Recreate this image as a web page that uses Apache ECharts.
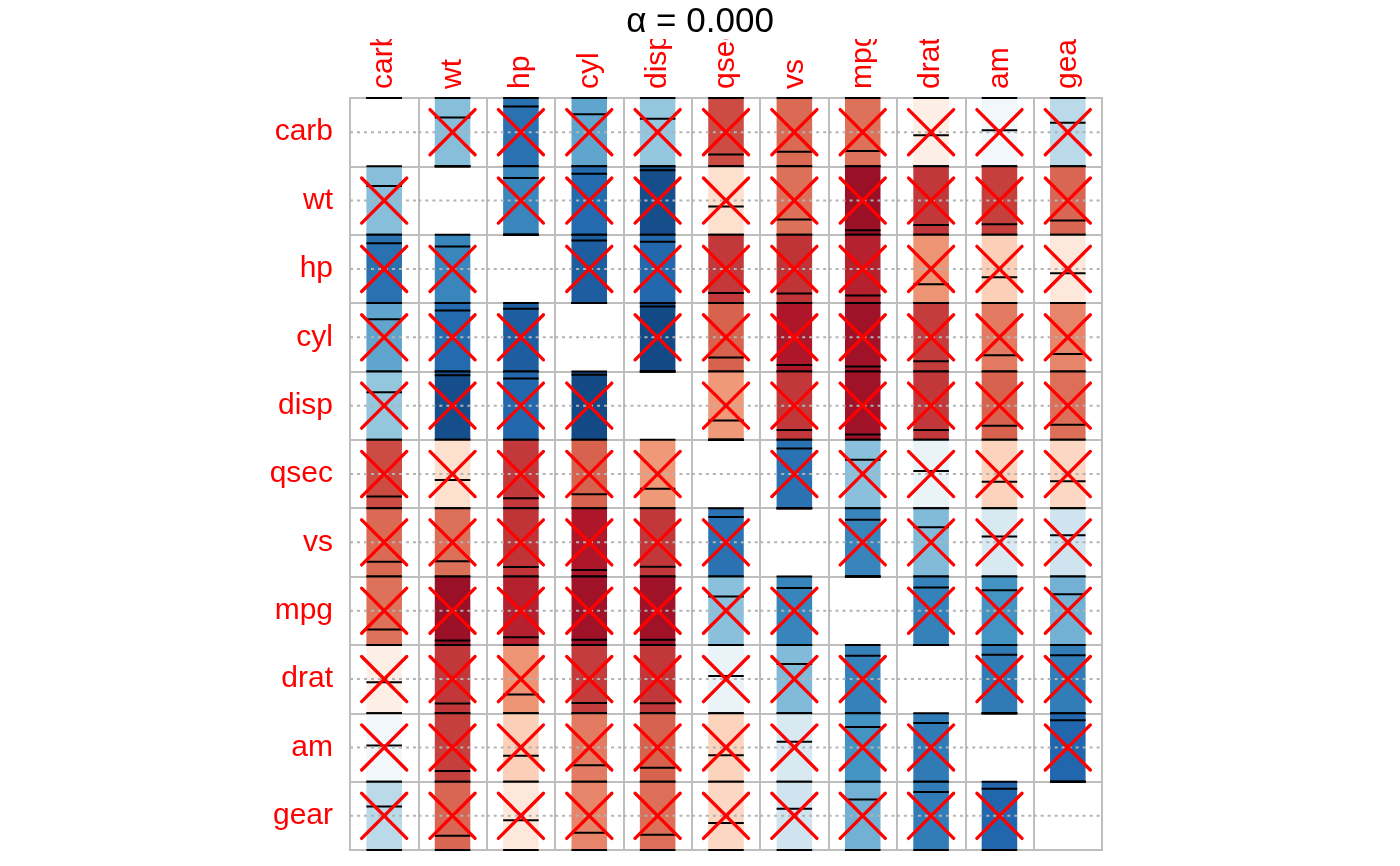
<!DOCTYPE html>
<html>
<head>
<meta charset="utf-8">
<title>corrplot CI</title>
<script src="https://cdn.jsdelivr.net/npm/echarts@6/dist/echarts.min.js"></script>
<style>
  html, body { margin: 0; padding: 0; background: #fff; }
  #chart { width: 1400px; height: 866px; }
</style>
</head>
<body>
<div id="chart"></div>
<script>
// variables in hclust order
var vars = ['carb', 'wt', 'hp', 'cyl', 'disp', 'qsec', 'vs', 'mpg', 'drat', 'am', 'gear'];

// correlation matrix (rows and columns follow vars)
var corr = [
  [ 1.000,  0.428,  0.750,  0.527,  0.395, -0.656, -0.570, -0.551, -0.091,  0.058,  0.274],
  [ 0.428,  1.000,  0.659,  0.782,  0.888, -0.175, -0.555, -0.868, -0.712, -0.692, -0.583],
  [ 0.750,  0.659,  1.000,  0.832,  0.791, -0.708, -0.723, -0.776, -0.449, -0.243, -0.126],
  [ 0.527,  0.782,  0.832,  1.000,  0.902, -0.591, -0.811, -0.852, -0.700, -0.523, -0.493],
  [ 0.395,  0.888,  0.791,  0.902,  1.000, -0.434, -0.710, -0.848, -0.710, -0.591, -0.556],
  [-0.656, -0.175, -0.708, -0.591, -0.434,  1.000,  0.745,  0.419,  0.091, -0.230, -0.213],
  [-0.570, -0.555, -0.723, -0.811, -0.710,  0.745,  1.000,  0.664,  0.440,  0.168,  0.206],
  [-0.551, -0.868, -0.776, -0.852, -0.848,  0.419,  0.664,  1.000,  0.681,  0.600,  0.480],
  [-0.091, -0.712, -0.449, -0.700, -0.710,  0.091,  0.440,  0.681,  1.000,  0.713,  0.700],
  [ 0.058, -0.692, -0.243, -0.523, -0.591, -0.230,  0.168,  0.600,  0.713,  1.000,  0.794],
  [ 0.274, -0.583, -0.126, -0.493, -0.556, -0.213,  0.206,  0.480,  0.700,  0.794,  1.000]
];

// alpha = 0 -> conf.level = 1, so every off-diagonal interval is [-1, 1]
var sigLevel = 0;
var ciLow = -1;
var ciUpp = 1;

// corrplot COL2('RdBu')
var palette = ['#67001F', '#B2182B', '#D6604D', '#F4A582', '#FDDBC7', '#FFFFFF',
               '#D1E5F0', '#92C5DE', '#4393C3', '#2166AC', '#053061'];

var cells = [];
for (var i = 0; i < vars.length; i++) {
  for (var j = 0; j < vars.length; j++) {
    var r = corr[i][j];
    var lo = i === j ? r : ciLow;
    var hi = i === j ? r : ciUpp;
    cells.push([j, i, r, lo, hi]);
  }
}

var font = 'Liberation Sans, Arial, sans-serif';
var chart = echarts.init(document.getElementById('chart'));

function renderCell(params, api) {
  var col = api.value(0), row = api.value(1), r = api.value(2);
  var lo = api.value(3), hi = api.value(4);
  var c = api.coord([col, row]);
  var size = api.size([1, 1]);
  var w = size[0], h = size[1];
  var half = w * 0.26;
  var yOf = function (v) { return c[1] - v * h / 2; };
  var kids = [];

  if (hi > lo) {
    kids.push({
      type: 'rect',
      shape: { x: c[0] - half, y: yOf(hi), width: half * 2, height: yOf(lo) - yOf(hi) },
      style: { fill: api.visual('color') }
    });
  }
  [hi, lo, r].forEach(function (v) {
    kids.push({
      type: 'line',
      shape: { x1: c[0] - half, y1: yOf(v), x2: c[0] + half, y2: yOf(v) },
      style: { stroke: '#000', lineWidth: 2 }
    });
  });
  // zero line
  kids.push({
    type: 'line',
    shape: { x1: c[0] - w / 2, y1: c[1], x2: c[0] + w / 2, y2: c[1] },
    style: { stroke: '#B3B3B3', lineWidth: 2, lineDash: [3, 4] }
  });
  // insignificant mark (p > alpha)
  if (col !== row) {
    var d = w * 0.33;
    kids.push({
      type: 'line',
      shape: { x1: c[0] - d, y1: c[1] - d, x2: c[0] + d, y2: c[1] + d },
      style: { stroke: '#FF0000', lineWidth: 3.3, lineCap: 'round' }
    });
    kids.push({
      type: 'line',
      shape: { x1: c[0] - d, y1: c[1] + d, x2: c[0] + d, y2: c[1] - d },
      style: { stroke: '#FF0000', lineWidth: 3.3, lineCap: 'round' }
    });
  }
  return { type: 'group', children: kids };
}

chart.setOption({
  animation: false,
  title: {
    text: 'α = ' + sigLevel.toFixed(3),
    left: 'center',
    top: 0,
    z: 20,
    textStyle: { fontSize: 35, fontWeight: 'normal', color: '#000', fontFamily: font }
  },
  // clip the rotated column labels like the plot region does
  graphic: [{
    type: 'rect',
    z: 10,
    shape: { x: 0, y: 0, width: 1400, height: 39 },
    style: { fill: '#fff' }
  }],
  grid: {
    left: 350, top: 98, width: 752, height: 752,
    show: true, borderColor: '#BEBEBE', borderWidth: 2
  },
  visualMap: {
    show: false,
    type: 'continuous',
    min: -1, max: 1,
    dimension: 2,
    seriesIndex: 0,
    inRange: { color: palette }
  },
  xAxis: {
    type: 'category',
    position: 'top',
    data: vars,
    axisLine: { show: false },
    axisTick: { show: false },
    axisLabel: { rotate: -90, interval: 0, margin: 9, color: '#FF0000', fontSize: 30, fontFamily: font },
    splitLine: { show: true, interval: 0, lineStyle: { color: '#BEBEBE', width: 2 } }
  },
  yAxis: {
    type: 'category',
    inverse: true,
    data: vars,
    axisLine: { show: false },
    axisTick: { show: false },
    axisLabel: { interval: 0, margin: 17, color: '#FF0000', fontSize: 30, fontFamily: font },
    splitLine: { show: true, interval: 0, lineStyle: { color: '#BEBEBE', width: 2 } }
  },
  series: [{
    type: 'custom',
    renderItem: renderCell,
    encode: { x: 0, y: 1 },
    data: cells
  }]
});

window.onresize = function () { chart.resize(); };
</script>
</body>
</html>
